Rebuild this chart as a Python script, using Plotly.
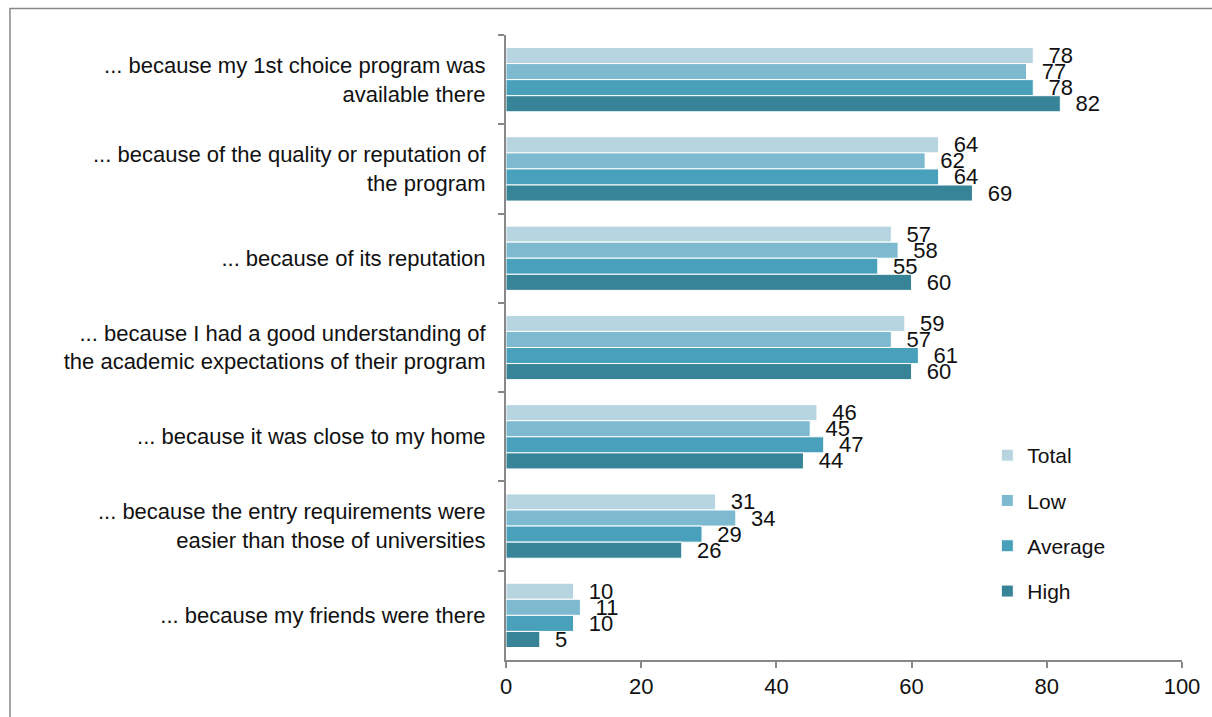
import plotly.graph_objects as go

categories = [
    "... because my 1st choice program was<br>available there",
    "... because of the quality or reputation of<br>the program",
    "... because of its reputation",
    "... because I had a good understanding of<br>the academic expectations of their program",
    "... because it was close to my home",
    "... because the entry requirements were<br>easier than those of universities",
    "... because my friends were there",
]

total = [78, 64, 57, 59, 46, 31, 10]
low = [77, 62, 58, 57, 45, 34, 11]
average = [78, 64, 55, 61, 47, 29, 10]
high = [82, 69, 60, 60, 44, 26, 5]

series = [
    ("Total", total, "#B7D5E0"),
    ("Low", low, "#7DBAD0"),
    ("Average", average, "#48A0BA"),
    ("High", high, "#378397"),
]

W, H = 1212, 717
ML, MR, MT, MB = 506, 28, 35, 57

fig = go.Figure()
for name, vals, color in series:
    fig.add_trace(go.Bar(
        name=name, legendgroup=name,
        y=categories, x=vals, orientation="h",
        marker=dict(color=color, line=dict(color="white", width=1)),
        text=[str(v) for v in vals],
        texttemplate="\u00a0\u00a0%{text}",
        textposition="outside",
        textfont=dict(size=22, color="#111111"),
        constraintext="none",
        cliponaxis=False,
    ))

# light grey frame around the whole figure
pw = W - ML - MR
ph = H - MT - MB
fig.add_shape(
    type="rect", xref="paper", yref="paper",
    x0=(8.5 - ML) / pw, x1=(W + 5 - ML) / pw,
    y0=-(H + 5 - MT - ph) / ph, y1=(ph + MT - 8.5) / ph,
    line=dict(color="#888888", width=1.5), layer="below",
)

fig.update_layout(
    width=W, height=H,
    margin=dict(l=ML, r=MR, t=MT, b=MB),
    paper_bgcolor="white", plot_bgcolor="white",
    font=dict(family="Liberation Sans, Arial, sans-serif", size=22, color="#111111"),
    barmode="group", bargap=0.28, bargroupgap=0,
    showlegend=True,
    legend=dict(
        x=0.712, y=0.36, xanchor="left", yanchor="top",
        traceorder="grouped", tracegroupgap=15,
        font=dict(size=21), bgcolor="rgba(0,0,0,0)",
    ),
    xaxis=dict(
        range=[0, 100], dtick=20, showgrid=False, zeroline=False,
        showline=True, linecolor="#888888", linewidth=2,
        ticks="outside", ticklen=6, tickcolor="#888888", tickwidth=2,
        tickfont=dict(size=22),
    ),
    yaxis=dict(
        autorange="reversed", showgrid=False,
        showline=True, linecolor="#888888", linewidth=2,
        ticks="outside", ticklen=6, tickcolor="#888888", tickwidth=2,
        tickson="boundaries", ticklabelstandoff=14,
        tickfont=dict(size=22),
    ),
)

fig.write_html("out.html")
